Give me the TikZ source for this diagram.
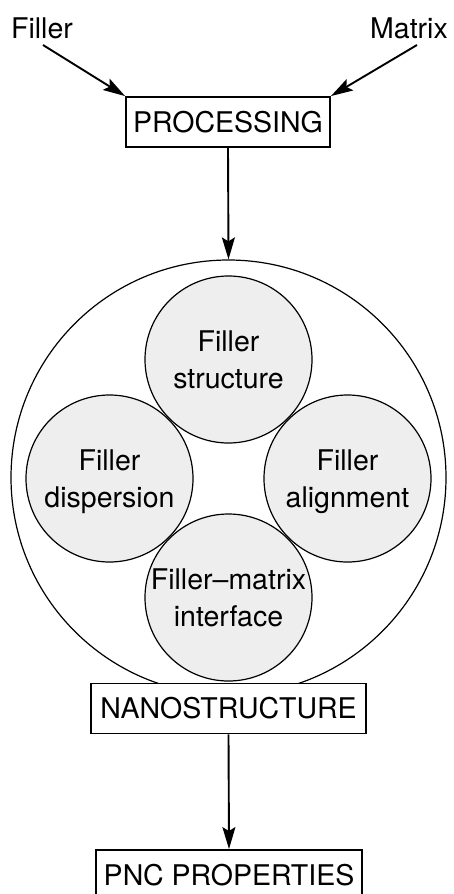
\documentclass[tikz,border=0pt]{standalone}
\usepackage{fontspec}
\setmainfont{TeX Gyre Heros}
\usetikzlibrary{arrows.meta}
\definecolor{cfill}{HTML}{EEEEEE}
\begin{document}
\begin{tikzpicture}[x=1pt,y=-1pt,
  every node/.style={font=\fontsize{28.5}{36.5}\selectfont},
  lbl/.style={inner sep=0pt},
  boxnode/.style={draw, line width=1.9pt, fill=white, inner sep=0pt, minimum height=50pt},
  bigcirc/.style={draw, circle, line width=1.2pt, minimum size=435pt, inner sep=0pt},
  smallcirc/.style={draw, circle, line width=1.2pt, fill=cfill, minimum size=167pt, inner sep=0pt, align=center, text depth=0pt},
  arr/.style={line width=1.9pt, -{Stealth[length=22pt,width=13pt,inset=4pt]}}]
\useasboundingbox (0,0) rectangle (453,894);
\node[lbl] (filler) at (42,28.5) {Filler};
\node[lbl] (matrix) at (409,28.5) {Matrix};
\coordinate (fstart) at (43,45);
\coordinate (mstart) at (417,45);
\node[boxnode, minimum width=204pt] (proc) at (228,122) {PROCESSING};
\node[bigcirc] (big) at (228.5,477.5) {};
\node[smallcirc] (cs) at (228.5,359.5) {Filler\\structure};
\node[smallcirc] (cd) at (109.5,478.5) {Filler\\dispersion};
\node[smallcirc] (ca) at (347.5,478.5) {Filler\\alignment};
\node[smallcirc] (ci) at (228.5,597.5) {Filler–matrix\\interface};
\node[boxnode, minimum width=275pt] (nano) at (228.5,708.5) {NANOSTRUCTURE};
\node[boxnode, minimum width=266pt] (pnc) at (229,875) {PNC PROPERTIES};
\draw[arr] (fstart) -- (proc.north west);
\draw[arr] (mstart) -- (proc.north east);
\draw[arr] (proc.south) -- (big.north);
\draw[arr] (nano.south) -- (pnc.north);
\end{tikzpicture}
\end{document}
